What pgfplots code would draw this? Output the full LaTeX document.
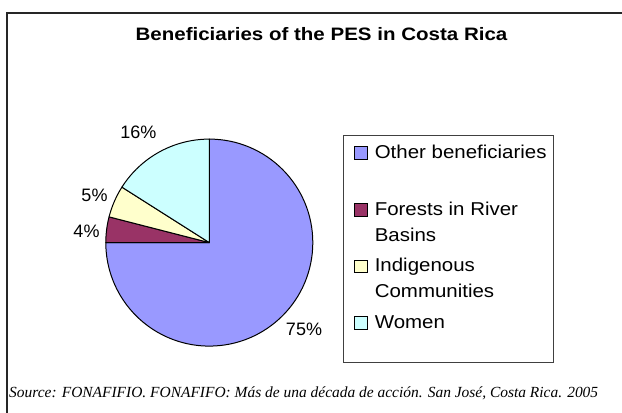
\documentclass[border=0pt]{standalone}
\usepackage{fontspec}
\setmainfont{Liberation Sans}
\newfontfamily\titlefont{Liberation Sans}[FakeStretch=1.14]
\newfontfamily\legfont{Liberation Sans}[FakeStretch=1.10]
\newfontfamily\srcfont{Liberation Serif}
\usepackage{pgfplots}
\usepackage{pgfplotstable}
\pgfplotsset{compat=1.18}
\definecolor{cOther}{HTML}{9999FF}
\definecolor{cForest}{HTML}{993366}
\definecolor{cIndig}{HTML}{FFFFCC}
\definecolor{cWomen}{HTML}{CCFFFF}
\pgfplotstableread[col sep=comma]{
label,value
Other beneficiaries,75
Forests in River Basins,4
Indigenous Communities,5
Women,16
}\piedata
\begin{document}
\begin{tikzpicture}
\path[use as bounding box] (0,0) rectangle (622bp,413bp);
\pgfplotstablegetelem{0}{value}\of\piedata\pgfmathsetmacro\aB{90-3.6*\pgfplotsretval}
\pgfplotstablegetelem{1}{value}\of\piedata\pgfmathsetmacro\aC{\aB-3.6*\pgfplotsretval}
\pgfplotstablegetelem{2}{value}\of\piedata\pgfmathsetmacro\aD{\aC-3.6*\pgfplotsretval}
\pgfplotstablegetelem{3}{value}\of\piedata\pgfmathsetmacro\aE{\aD-3.6*\pgfplotsretval}
\begin{axis}[
  at={(0,0)}, anchor=south west,
  scale only axis, width=622bp, height=413bp,
  xmin=0, xmax=622, ymin=0, ymax=413,
  hide axis, clip=false,
  legend image code/.code={\draw[#1, draw=black, line width=0.8bp] (0bp,-0.7bp) rectangle (12.5bp,11.7bp);},
  legend style={
    at={(0.56913,0.65012)}, anchor=north west,
    draw=none, fill=none, inner sep=0pt, outer sep=0pt,
    column sep=7.5bp, row sep=0pt,
    cells={anchor=base west},
    nodes={inner sep=0pt, outer sep=0pt, text height=14bp, text depth=42.7bp},
    font=\legfont\fontsize{18.6bp}{26bp}\selectfont,
  },
]
\filldraw[fill=cOther, draw=black, line width=1bp, line join=round]
  (axis cs:209.3,170.4) -- ++(90:103.5bp) arc[start angle=90, end angle=\aB, radius=103.5bp] -- cycle;
\filldraw[fill=cForest, draw=black, line width=1bp, line join=round]
  (axis cs:209.3,170.4) -- ++(\aB:103.5bp) arc[start angle=\aB, end angle=\aC, radius=103.5bp] -- cycle;
\filldraw[fill=cIndig, draw=black, line width=1bp, line join=round]
  (axis cs:209.3,170.4) -- ++(\aC:103.5bp) arc[start angle=\aC, end angle=\aD, radius=103.5bp] -- cycle;
\filldraw[fill=cWomen, draw=black, line width=1bp, line join=round]
  (axis cs:209.3,170.4) -- ++(\aD:103.5bp) arc[start angle=\aD, end angle=\aE, radius=103.5bp] -- cycle;

\addlegendimage{fill=cOther}
\addlegendentry{Other beneficiaries}
\addlegendimage{fill=cForest}
\addlegendentry{\parbox[t]{180bp}{Forests in River\\Basins}}
\addlegendimage{fill=cIndig}
\addlegendentry{\parbox[t]{180bp}{Indigenous\\Communities}}
\addlegendimage{fill=cWomen}
\addlegendentry{Women}

\node[anchor=base, inner sep=0pt, font=\fontsize{18bp}{20bp}\selectfont] at (axis cs:304,77) {75\%};
\node[anchor=base, inner sep=0pt, font=\fontsize{18bp}{20bp}\selectfont] at (axis cs:86.5,175.5) {4\%};
\node[anchor=base, inner sep=0pt, font=\fontsize{18bp}{20bp}\selectfont] at (axis cs:94.5,211.5) {5\%};
\node[anchor=base, inner sep=0pt, font=\fontsize{18bp}{20bp}\selectfont] at (axis cs:138.4,274) {16\%};

\node[anchor=base, inner sep=0pt] at (axis cs:321.5,372) {\titlefont\bfseries\fontsize{18bp}{20bp}\selectfont Beneficiaries of the PES in Costa Rica};

\node[anchor=base west, inner sep=0pt] at (axis cs:9,16) {\srcfont\itshape\fontsize{15.45bp}{17bp}\selectfont Source: FONAFIFIO. FONAFIFO: Más de una década de acción. San José, Costa Rica. 2005};

\draw[line width=1bp, black!75] (axis cs:343,277) rectangle (axis cs:553,50);
\draw[line width=1.4bp, black!85] (axis cs:7,0) -- (axis cs:7,400) -- (axis cs:622,400);
\end{axis}
\end{tikzpicture}
\end{document}
